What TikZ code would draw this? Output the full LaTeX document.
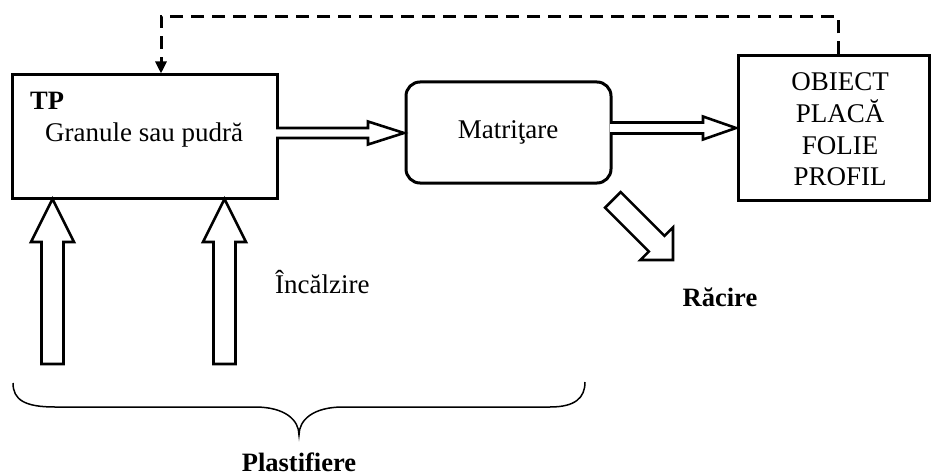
\documentclass[tikz,border=0pt]{standalone}
\usepackage{fontspec}
\setmainfont{Liberation Serif}
\usetikzlibrary{arrows.meta}
\begin{document}
\begin{tikzpicture}[x=1pt,y=-1pt,
  box/.style={draw,line width=3pt,inner sep=0pt},
  lbl/.style={inner sep=0pt,font=\fontsize{27}{31}\selectfont},
  blbl/.style={inner sep=0pt,font=\fontsize{26.5}{31}\selectfont\bfseries},
  hollow/.style={draw,line width=2.6pt,fill=white,line join=miter},
  feedback/.style={draw,line width=3pt,dash pattern=on 13pt off 8pt},
  bracestyle/.style={draw,line width=1.5pt}]
\useasboundingbox (0,0) rectangle (931,476);

% process boxes
\node[box,minimum width=265pt,minimum height=123pt] (tp) at (144.5,136.5) {};
\node[box,rounded corners=14pt,minimum width=205pt,minimum height=101pt] (mat) at (508.5,132.5) {};
\node[box,minimum width=191pt,minimum height=144pt] (obj) at (833.5,128) {};

% box texts
\node[blbl,anchor=base west] (tptitle) at (30,110) {TP};
\node[lbl,anchor=base west] (tptext) at (45,142) {Granule sau pudră};
\node[lbl,anchor=base] (mattext) at (508,139) {Matriţare};
\node[lbl,anchor=base] (obj1) at (840,91) {OBIECT};
\node[lbl,anchor=base] (obj2) at (840,122.5) {PLACĂ};
\node[lbl,anchor=base] (obj3) at (840,154) {FOLIE};
\node[lbl,anchor=base] (obj4) at (840,185) {PROFIL};

% free labels
\node[lbl,anchor=base west] (heat) at (275,293) {Încălzire};
\node[blbl,anchor=base] (cool) at (720,306) {Răcire};
\node[blbl,anchor=base] (plast) at (299,471) {Plastifiere};

% feedback line from the product back to the raw material
\draw[feedback,-{Triangle[width=11pt,length=12pt]}]
  ([xshift=4.5pt]obj.north) -- ++(0,-38) -| ([xshift=16.5pt]tp.north);

% hollow flow arrows between the boxes
\draw[hollow] (276,128) -- (368,128) -- (368,121.5) -- (404,133)
  -- (368,144.5) -- (368,138) -- (276,138);
\draw[hollow] (610,122.5) -- (703,122.5) -- (703,116.5) -- (736,128)
  -- (703,139.5) -- (703,133.5) -- (610,133.5);

% heating arrows into the raw material box
\draw[hollow] (52.5,199) -- (74,242) -- (63.5,242) -- (63.5,364)
  -- (41.5,364) -- (41.5,242) -- (31,242) -- cycle;
\draw[hollow] (224.5,199) -- (246,242) -- (235.5,242) -- (235.5,364)
  -- (213.5,364) -- (213.5,242) -- (203,242) -- cycle;

% cooling arrow leaving the mould
\draw[hollow] (673,260) -- (640.4,260) -- (648.9,251.5) -- (605.1,207.7)
  -- (620.7,192.1) -- (664.5,235.9) -- (673,227.4) -- cycle;

% brace under the plastification stage
\draw[bracestyle] (13,383) .. controls (13,400) and (25,407) .. (55,407)
  -- (255,407) .. controls (285,407) and (299,420) .. (299,435)
  .. controls (299,420) and (313,407) .. (343,407)
  -- (550,407) .. controls (575,407) and (585,398) .. (585,382);
\end{tikzpicture}
\end{document}
